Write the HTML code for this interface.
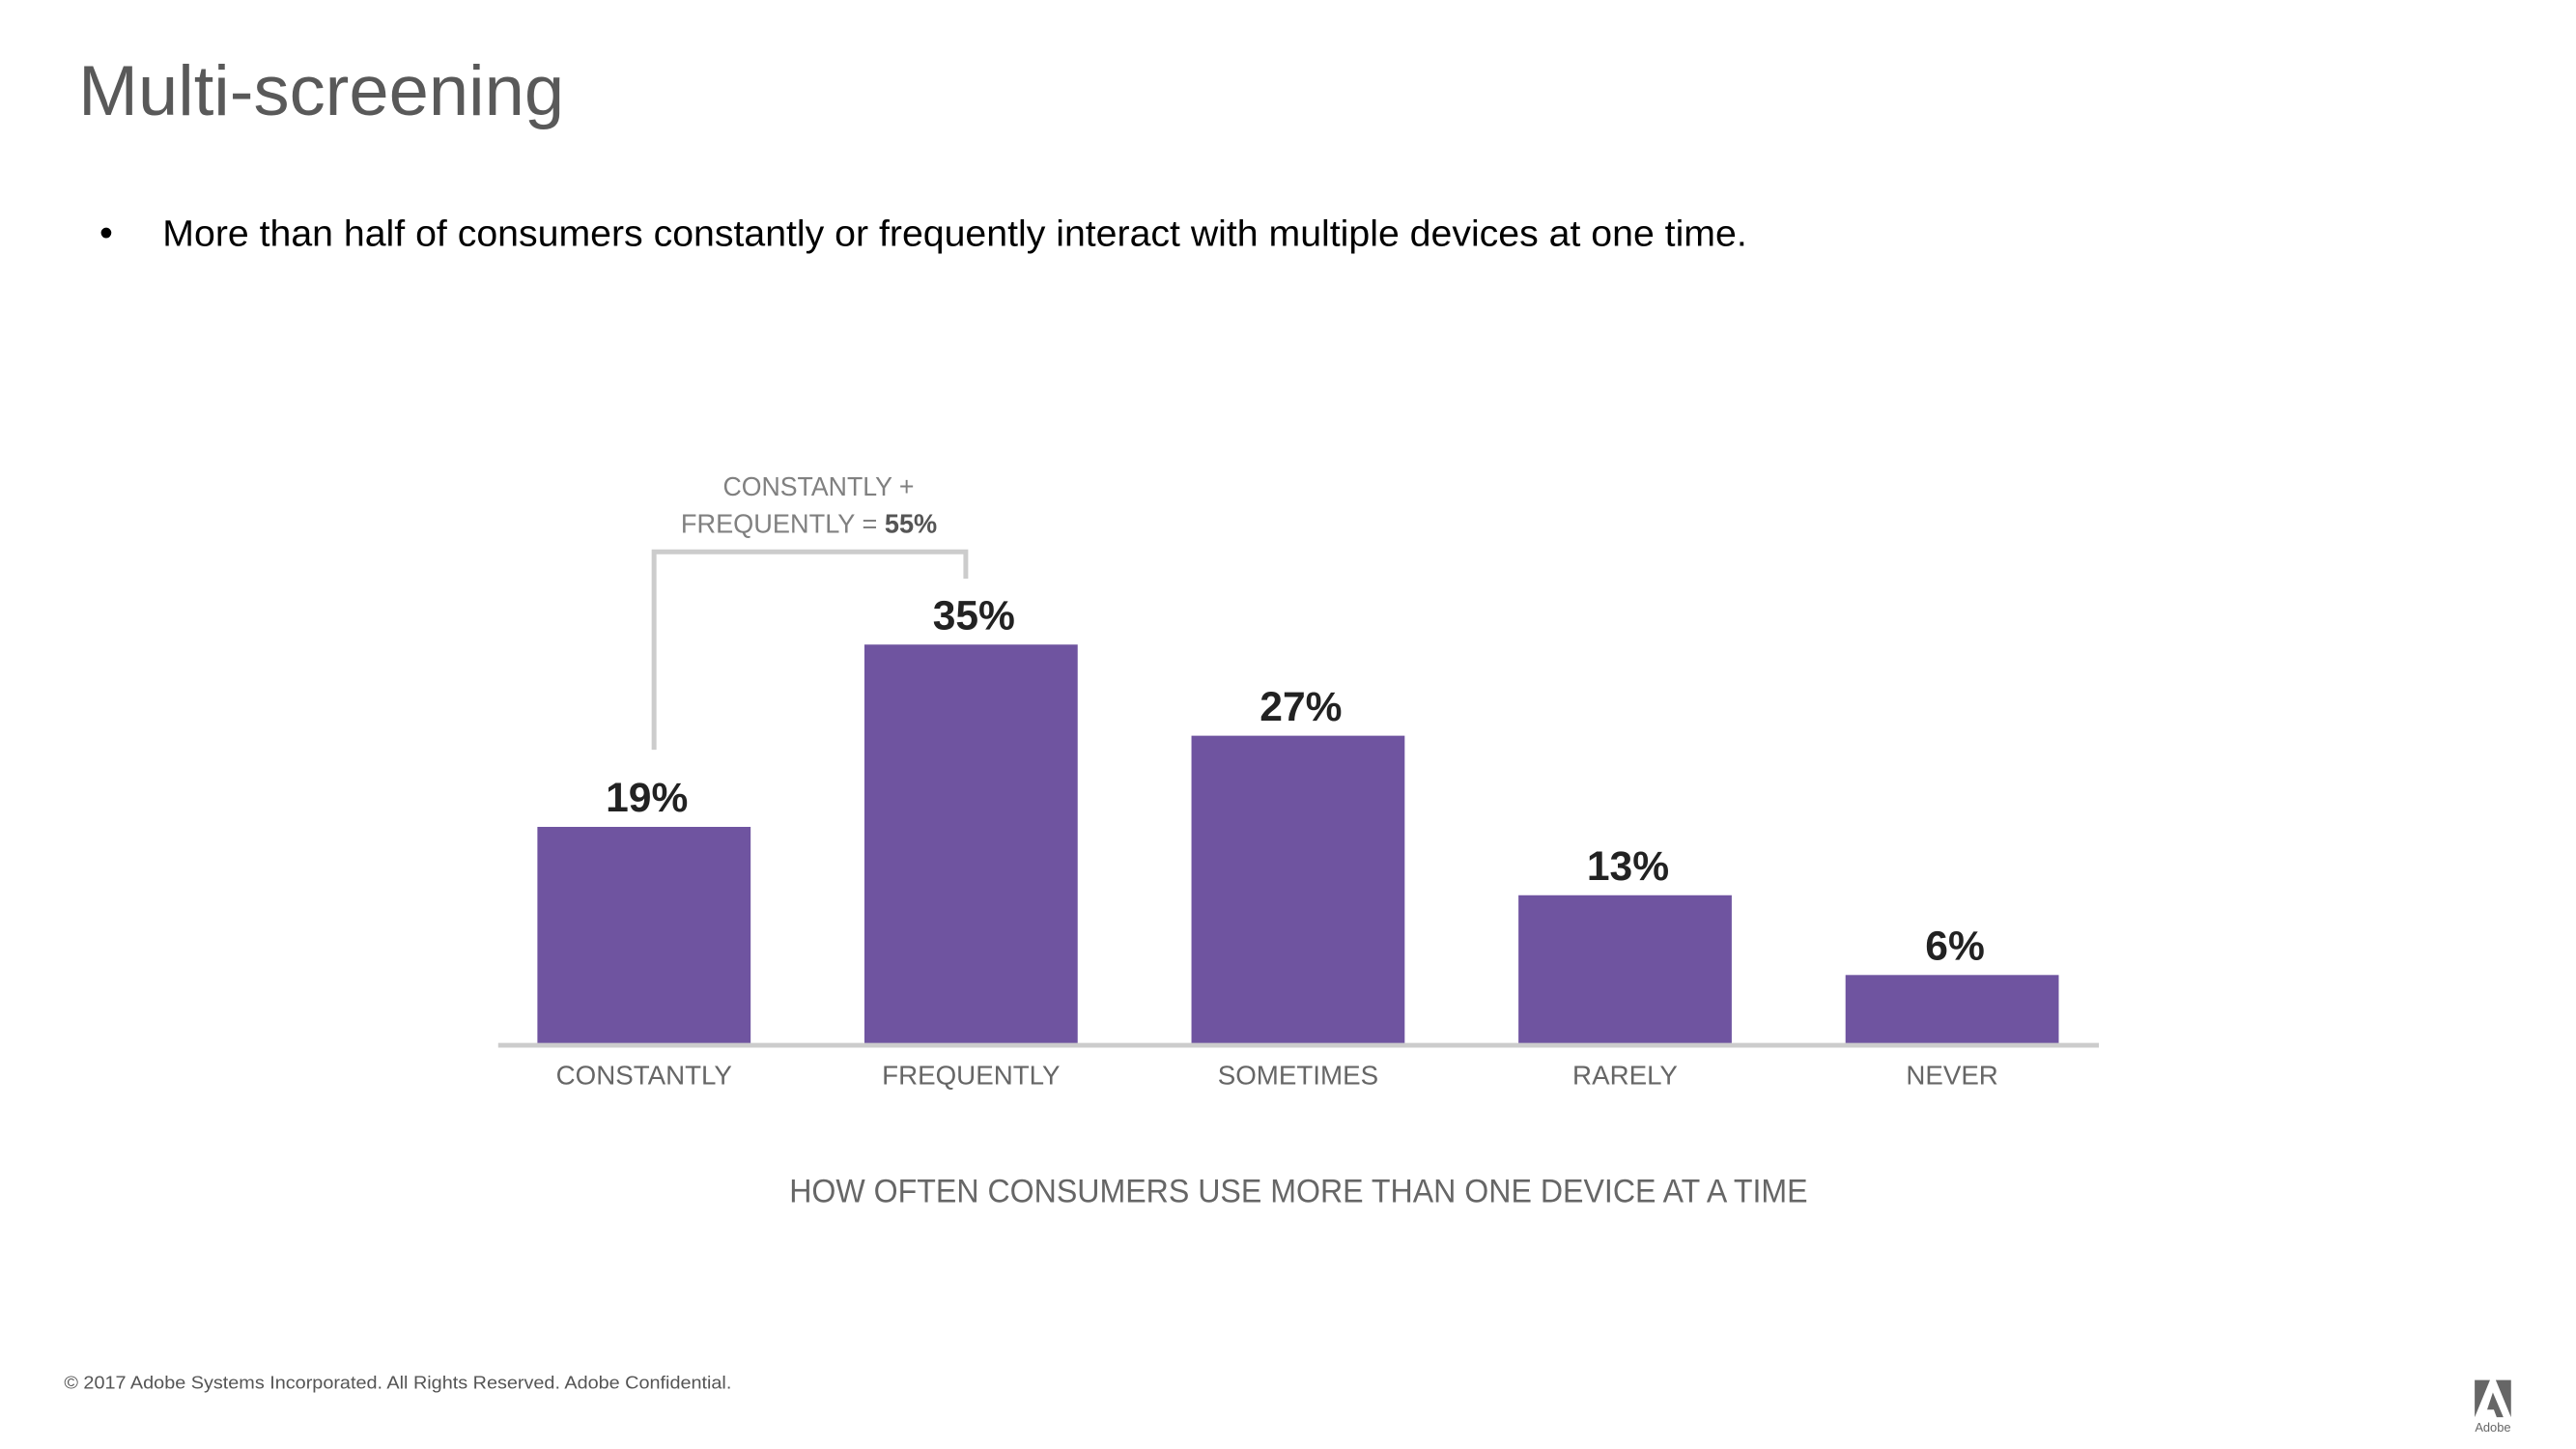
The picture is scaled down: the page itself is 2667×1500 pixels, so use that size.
<!DOCTYPE html>
<html><head><meta charset="utf-8"><style>
html,body{margin:0;padding:0;background:#fff;}
svg{display:block;font-family:"Liberation Sans",sans-serif;}
</style></head><body>
<svg id="slide" width="2667" height="1500" viewBox="0 0 2667 1500">
<g transform="scale(0.99)">
<text x="82" y="120" font-size="74" fill="#595959" textLength="508" lengthAdjust="spacingAndGlyphs">Multi-screening</text>
<text x="104" y="257" font-size="40" fill="#000">•</text>
<text x="170" y="257" font-size="38" fill="#000" textLength="1657" lengthAdjust="spacingAndGlyphs">More than half of consumers constantly or frequently interact with multiple devices at one time.</text>
<g id="chart"></g>
<path d="M684 784 V577 H1010 V605" fill="none" stroke="#cccccc" stroke-width="5"/>
<text x="856" y="518" font-size="28" fill="#808080" text-anchor="middle" textLength="200" lengthAdjust="spacingAndGlyphs">CONSTANTLY +</text>
<text x="846" y="557" font-size="28" fill="#808080" text-anchor="middle" textLength="268" lengthAdjust="spacingAndGlyphs">FREQUENTLY = <tspan font-weight="bold" fill="#555">55%</tspan></text>
<text x="1358" y="1257" font-size="35" fill="#666" text-anchor="middle" textLength="1065" lengthAdjust="spacingAndGlyphs">HOW OFTEN CONSUMERS USE  MORE THAN ONE DEVICE AT A TIME</text>
<text x="67" y="1452" font-size="19" fill="#555" textLength="698" lengthAdjust="spacingAndGlyphs">© 2017 Adobe Systems Incorporated.  All Rights Reserved.  Adobe Confidential.</text>
<g>
<polygon points="2588,1443 2604,1443 2588,1482" fill="#666"/>
<polygon points="2610,1443 2626,1443 2626,1482" fill="#666"/>
<polygon points="2607,1456 2618,1482 2611,1482 2608,1474 2601,1474" fill="#666"/>
<text x="2607" y="1497" font-size="13" fill="#666" text-anchor="middle">Adobe</text>
</g>
</g>
</svg>
<script>
var categories = ["CONSTANTLY","FREQUENTLY","SOMETIMES","RARELY","NEVER"];
var values = [19,35,27,13,6];
var valueLabels = ["19%","35%","27%","13%","6%"];
(function(){
  var NS="http://www.w3.org/2000/svg";
  var g=document.getElementById('chart');
  var baseY=1091, pxPer=417/35, x0=562, pitch=342, bw=223;
  function xPos(i){return x0+i*pitch;}
  function yPos(v){return baseY-v*pxPer;}
  categories.forEach(function(c,i){
    var r=document.createElementNS(NS,'rect');
    r.setAttribute('x',xPos(i));r.setAttribute('y',yPos(values[i]));
    r.setAttribute('width',bw);r.setAttribute('height',baseY-yPos(values[i]));
    r.setAttribute('fill','#6f54a0');
    
    
    g.appendChild(r);
    var t=document.createElementNS(NS,'text');
    t.setAttribute('x',xPos(i)+bw/2+3);t.setAttribute('y',yPos(values[i])-16);
    t.setAttribute('text-anchor','middle');t.setAttribute('font-size','43');
    t.setAttribute('font-weight','bold');t.setAttribute('fill','#222');
    t.textContent=valueLabels[i];
    
    
    g.appendChild(t);
    var l=document.createElementNS(NS,'text');
    l.setAttribute('x',xPos(i)+bw/2);l.setAttribute('y',1134);
    l.setAttribute('text-anchor','middle');l.setAttribute('font-size','28');
    l.setAttribute('fill','#666');
    l.textContent=c;
    
    
    g.appendChild(l);
  });
  var ax=document.createElementNS(NS,'line');
  ax.setAttribute('x1',521);ax.setAttribute('x2',2195);
  ax.setAttribute('y1',baseY+2);ax.setAttribute('y2',baseY+2);
  ax.setAttribute('stroke','#cccccc');ax.setAttribute('stroke-width','5');
  
  
  g.appendChild(ax);
})();
</script>
</body></html>
